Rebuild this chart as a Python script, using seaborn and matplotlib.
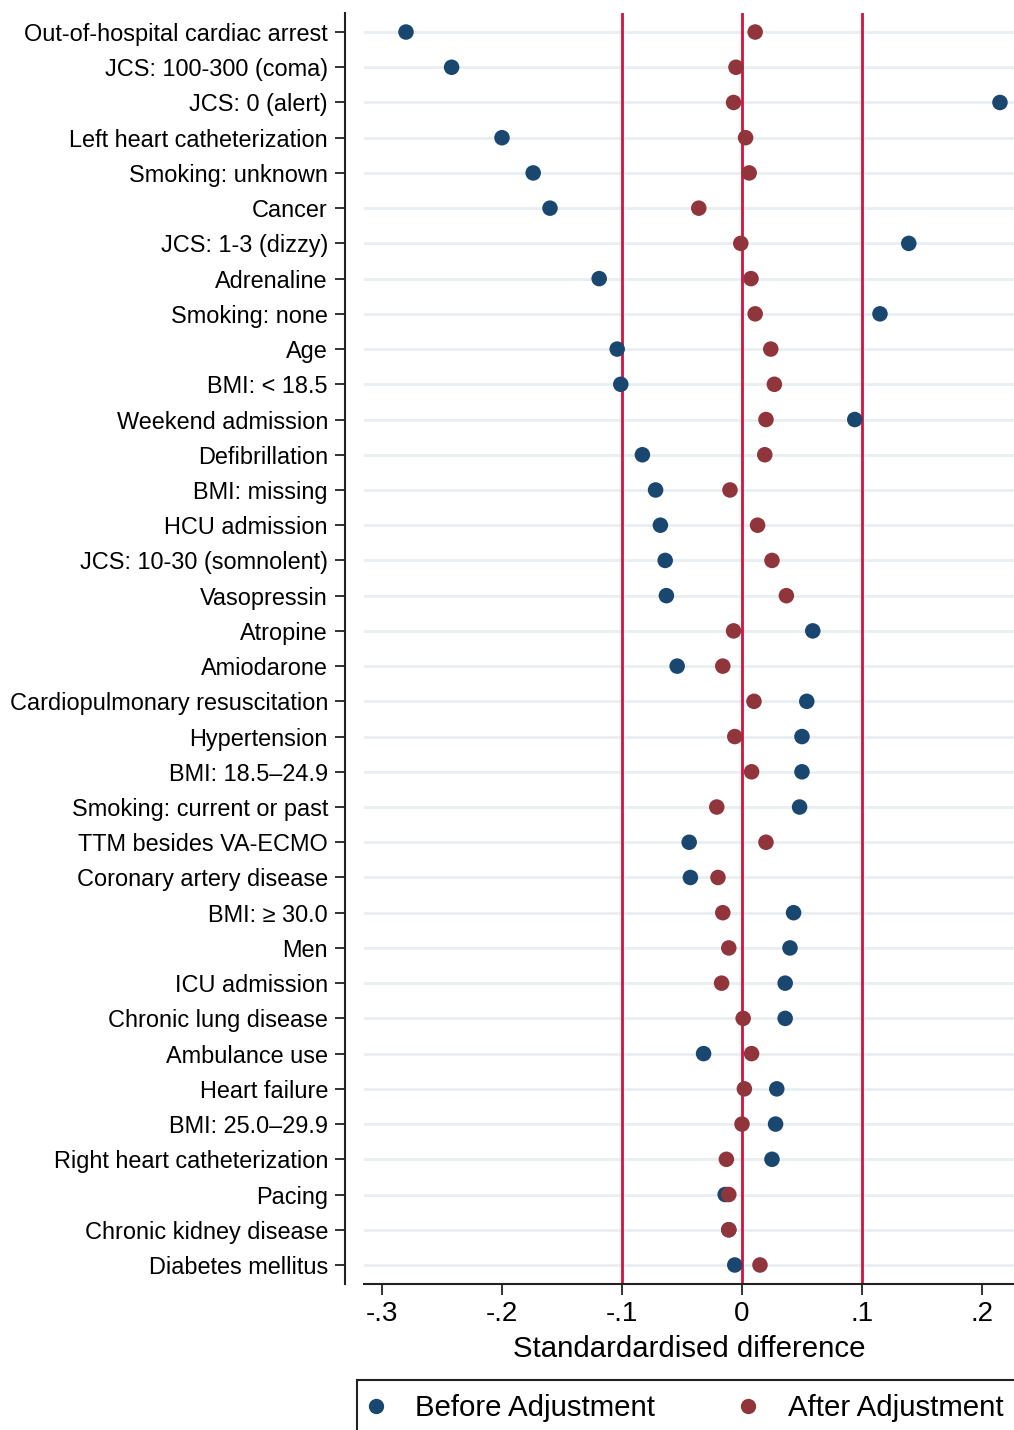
import numpy as np
import pandas as pd
import matplotlib
matplotlib.use("Agg")
import matplotlib.pyplot as plt
import matplotlib.patches as mpatches
from matplotlib.lines import Line2D
import seaborn as sns

covariates = [
    "Out-of-hospital cardiac arrest", "JCS: 100-300 (coma)", "JCS: 0 (alert)",
    "Left heart catheterization", "Smoking: unknown", "Cancer", "JCS: 1-3 (dizzy)",
    "Adrenaline", "Smoking: none", "Age", "BMI: < 18.5", "Weekend admission",
    "Defibrillation", "BMI: missing", "HCU admission", "JCS: 10-30 (somnolent)",
    "Vasopressin", "Atropine", "Amiodarone", "Cardiopulmonary resuscitation",
    "Hypertension", "BMI: 18.5\u201324.9", "Smoking: current or past",
    "TTM besides VA-ECMO", "Coronary artery disease", "BMI: \u2265 30.0", "Men",
    "ICU admission", "Chronic lung disease", "Ambulance use", "Heart failure",
    "BMI: 25.0\u201329.9", "Right heart catheterization", "Pacing",
    "Chronic kidney disease", "Diabetes mellitus",
]

before = [-0.280, -0.242, 0.215, -0.200, -0.174, -0.160, 0.139, -0.119, 0.115,
          -0.104, -0.101, 0.094, -0.083, -0.072, -0.068, -0.064, -0.063, 0.059,
          -0.054, 0.054, 0.050, 0.050, 0.048, -0.044, -0.043, 0.043, 0.040,
          0.036, 0.036, -0.032, 0.029, 0.028, 0.025, -0.014, -0.011, -0.006]

after = [0.011, -0.005, -0.007, 0.003, 0.006, -0.036, -0.001, 0.0075, 0.011,
         0.024, 0.027, 0.020, 0.019, -0.010, 0.013, 0.025, 0.037, -0.007,
         -0.016, 0.010, -0.006, 0.008, -0.021, 0.020, -0.020, -0.016, -0.011,
         -0.017, 0.001, 0.008, 0.002, 0.000, -0.013, -0.011, -0.011, 0.015]

series = ["Before Adjustment", "After Adjustment"]
ref_lines = [-0.1, 0, 0.1]
xticks = [-0.3, -0.2, -0.1, 0, 0.1, 0.2]
xtick_labels = ["-.3", "-.2", "-.1", "0", ".1", ".2"]

df = pd.DataFrame({
    "covariate": covariates * 2,
    "pos": list(range(len(covariates))) * 2,
    "diff": before + after,
    "series": [series[0]] * len(before) + [series[1]] * len(after),
})

sns.set_style("white")
plt.rcParams["font.family"] = ["Liberation Sans", "DejaVu Sans"]
plt.rcParams["text.color"] = "black"
plt.rcParams["xtick.color"] = "#222222"
plt.rcParams["ytick.color"] = "#222222"
plt.rcParams["xtick.labelcolor"] = "black"
plt.rcParams["ytick.labelcolor"] = "black"
plt.rcParams["axes.labelcolor"] = "black"

blue = "#1a476f"
maroon = "#90353b"
palette = {series[0]: blue, series[1]: maroon}

fig = plt.figure(figsize=(10.14, 14.30), dpi=100)
ax = fig.add_axes([364 / 1014, 1 - 1284 / 1430, 1 - 364 / 1014, (1284 - 13) / 1430])

# light horizontal guides for each covariate
for i in range(len(covariates)):
    ax.axhline(i, color="#e8eff1", lw=2, zorder=0)

for v in ref_lines:
    ax.axvline(v, color="#d3123d", lw=2, zorder=1)

sns.scatterplot(data=df, x="diff", y="pos", hue="series", palette=palette,
                s=125, linewidth=0, legend=False, ax=ax, zorder=3)

ax.set_xlim(-0.315, 0.2267)
ax.set_ylim(len(covariates) - 0.46, -0.54)

for s in ["top", "right"]:
    ax.spines[s].set_visible(False)
ax.spines["left"].set_position(("outward", 14))
ax.spines["left"].set_color("#222222")
ax.spines["bottom"].set_color("#222222")
ax.spines["left"].set_linewidth(1.5)
ax.spines["bottom"].set_linewidth(1.5)
ax.tick_params(axis="y", length=7, width=1.3, pad=5, left=True, labelsize=16.9)
ax.tick_params(axis="x", length=8, width=1.3, pad=4, bottom=True, labelsize=20)

ax.set_yticks(range(len(covariates)))
ax.set_yticklabels(covariates, fontsize=16.9)
ax.set_xticks(xticks)
ax.set_xticklabels(xtick_labels, fontsize=20)
ax.set_xlabel("Standardardised difference", fontsize=21.2, labelpad=6)
ax.set_ylabel("")

# legend box, cropped by the figure edge like the original
box = mpatches.Rectangle((357 / 1014, 1 - 1460 / 1430), 700 / 1014, 80 / 1430,
                         transform=fig.transFigure, fill=False, lw=1.5,
                         edgecolor="#222222", clip_on=False)
fig.patches.append(box)
handles = [Line2D([], [], marker="o", ls="", color=palette[k], markersize=10)
           for k in series]
fig.legend(handles, series, loc="center left", ncol=2, frameon=False,
           bbox_to_anchor=(361 / 1014, 1 - 1408 / 1430), fontsize=21.2,
           borderpad=0, borderaxespad=0, handletextpad=0.85,
           columnspacing=2.65, handlelength=1.0)

fig.savefig("out.png", dpi=100, facecolor="white")
